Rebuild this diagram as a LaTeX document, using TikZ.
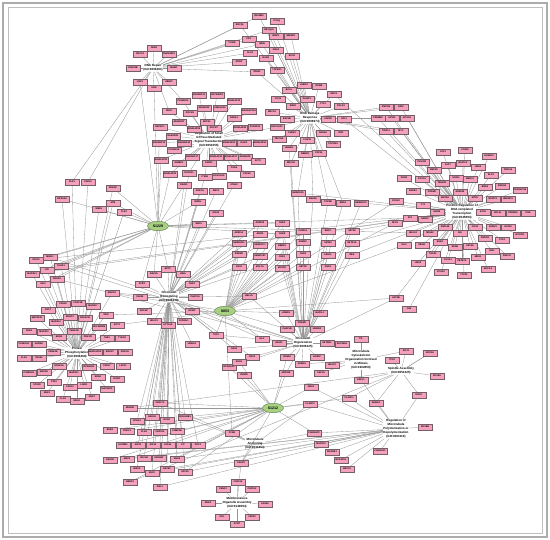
\documentclass[tikz,border=0pt]{standalone}
\usepackage{fontspec}
\setmainfont{Liberation Sans}
\usetikzlibrary{shapes.geometric}
\pgfdeclarelayer{bg}
\pgfsetlayers{bg,main}
\definecolor{genefill}{RGB}{244,160,190}
\definecolor{geneline}{RGB}{115,95,100}
\definecolor{sfill}{RGB}{168,208,130}
\definecolor{sline}{RGB}{95,125,75}
\definecolor{edgec}{RGB}{150,150,150}
\tikzset{
 gene/.style={draw=geneline, line width=0.28pt, fill=genefill, rectangle, minimum width=13.5pt, minimum height=5.4pt, inner sep=0.5pt, font=\fontsize{2.3}{2.5}\selectfont\bfseries},
 hub/.style={align=center, inner sep=0.3pt, font=\fontsize{3}{3.9}\selectfont\bfseries},
 snode/.style={ellipse, draw=sline, fill=sfill, line width=0.45pt, minimum width=21pt, minimum height=9.5pt, inner sep=0pt, font=\fontsize{3.6}{4}\selectfont\bfseries},
 edge/.style={draw=edgec, line width=0.32pt},
 framea/.style={draw=gray!65, line width=1.1pt},
 frameb/.style={draw=gray!50, line width=0.8pt},
}
\def\genes{
a1/259/16/ZRANB3/G1, a2/240/25/RECQL/G1, a3/269/30/RECQL5/G3, a4/291/36/WRNIP1/G3,
a5/276/36/BRIP1/G3, a6/249/39/PIF1/G1, a7/232/43/TICRR/G1, a8/262/44/WRN/G3,
a9/277/21/POLQ/G3, a10/276/50/DNA2/G3, a11/292/56/EXO1/G3, a12/250/53/SLX4/G1,
a13/266/58/RADX/G3, a14/239/62/ATRIP/G1, a15/257/72/TREX1/G3, a16/277/70/TOPBP1/G3,
a17/154/48/GEN1/G1, a18/169/54/TNKS1BP1/G1, a19/140/54/XRCC4/G1, a20/174/68/MGMT/G1,
a21/133/68/RAD23B/G1, a22/140/82/USP1/G1, a23/169/82/UBE2T/G1, a24/154/88/UNG/G1,
b1/199/95/ARHGEF11/G2, b2/217/95/CDC42EP4/G2, b3/234/101/ARHGAP12/G2, b4/183/101/PLEKHG3/G2,
b5/169/111/DEF6/G2, b6/190/113/DOCK9/G2, b7/204/108/ARHGEF2/G2, b8/220/108/ARHGAP5/G2,
b9/249/111/ARHGAP11A/G2, b10/234/118/RASA1/G2, b11/179/122/ARHGEF7/G2, b12/207/122/MCF2L/G2,
b13/160/127/DEPDC1/G2, b14/194/129/ARHGAP29/G2, b15/214/128/DOCK7/G2, b16/240/128/ARHGAP35/G2,
b17/255/127/STARD13/G2, b18/277/127/RACGAP1/G2, b19/173/136/RASGRF1/G2, b20/159/143/ARHGEF12/G2,
b21/184/143/ARHGEF40/G2, b22/229/143/ARHGAP21/G2, b23/244/143/DGKZ/G2, b24/260/143/ARHGAP31/G2,
b25/279/139/TBC1D4/G2, b26/174/150/PLEKHG5/G2, b27/161/160/ARHGAP32/G2, b28/179/163/SH3BP1/G2,
b29/192/157/ARHGEF17/G2, b30/209/163/FARP1/G2, b31/216/157/ARHGAP10/G2, b32/231/157/ARHGAP17/G2,
b33/245/157/ARHGEF5/G2, b34/258/161/ECT2/G2, b35/234/168/FGD6/G2, b36/189/173/DOCK11/G2,
b37/170/174/ARHGAP30/G2, b38/219/176/RAP1GAP/G2, b39/247/174/CDC42/G2, b40/205/177/ITSN1/G2,
c1/304/85/UHRF2/G3, c2/319/86/MCM8/G3, c3/289/90/BCL6/G3, c4/278/99/CUX1/G3,
c5/307/99/PAXIP1/G3, c6/334/94/MDC1/G3, c7/293/106/RNF8/G3, c8/323/104/CTC1/G3,
c9/341/106/POLD3/G3, c10/272/112/BRCA1/G3, c11/287/119/BAZ1B/G3, c12/328/119/USP28/G3,
c13/344/119/UFL1/G3, c15/292/133/CHEK2/G3, c16/323/133/RAD9A/G3, c17/341/133/RIF1/G3,
c19/307/140/CLSPN/G3, c20/333/144/TOPORS/G3, c21/289/148/HMGB1/G3, c22/305/154/RBBP8/G3,
c23/319/153/CDC5L/G3, c24/291/163/BRCA2/G3,
d1/386/107/ZNF384/G3, d2/401/107/E2F2/G3, d3/378/118/CREBBP/G3, d4/392/118/EP300/G3,
d5/407/118/NCOA3/G3, d6/386/131/TRIP11/G3, d7/401/131/MYC/G3, d8/404/178/PKN2/G4,
d9/443/152/ATF1/G4, d10/465/150/ZC3H8/G4, d11/489/156/HOXB13/G4, d12/422/162/POU2F1/G4,
d13/448/165/KLF7/G4, d14/463/163/NFATC2/G4, d15/478/167/LMO4/G4, d16/434/170/MEF2D/G4,
d17/491/175/ELF3/G4, d18/508/170/ZNF516/G4, d19/456/178/SOX11/G4, d20/470/179/MED13/G4,
d21/422/179/FOXO1/G4, d23/442/183/TRERF1/G4, d25/413/191/NFKB1/G4, d26/432/192/PRDM2/G4,
d27/460/192/ARID5B/G4, d28/485/187/BRD4/G4, d29/502/186/ZNF592/G4, d30/520/190/PPARGC1B/G4,
d31/445/198/KMT2A/G4, d32/475/198/MTF2/G4, d33/493/199/NFATC1/G4, d34/508/199/HNRNPU/G4,
d35/423/205/YY1/G4, d36/437/212/MAFB/G4, d37/483/212/ETV6/G4, d38/498/213/BCL9L/G4,
d39/513/213/PRDM16/G4, d40/528/213/PGR/G4, d41/410/218/SP1/G4, d42/425/219/NR2F2/G4,
d43/445/227/ZNF148/G4, d44/475/227/CDX2/G4, d45/493/227/RUNX1/G4, d46/508/227/GATA3/G4,
d47/413/233/HDAC4/G4, d48/430/233/NPAS2/G4, d49/460/233/SKI/G4, d50/485/238/ZNF281/G4,
d51/502/240/TCF4/G4, d52/520/235/MYOCD/G4, d53/422/245/MEIS1/G4, d54/440/242/EGR1/G4,
d55/455/247/RERE/G4, d56/470/246/KAT6A/G4, d57/492/251/RAI1/G4, d58/507/256/ZNF217/G4,
d59/433/254/TEAD1/G4, d60/418/263/LMO2/G4, d61/448/260/FOXK1/G4, d62/462/261/ZBTB7A/G4,
d63/478/257/MED1/G4, d64/488/269/NKX2-5/G4, d65/441/272/PCGF2/G4, d66/464/275/TCF20/G4,
d67/396/201/FOXK2/G4, d69/395/223/RFX3/G4, d71/404/245/GLI3/G4, d73/396/298/KAT2B/G7,
d74/409/309/JUN/G4, d76/430/353/KIF20A/G9,
e1/298/193/SMARCA5/G7, e2/313/199/BAZ2A/G7, e3/328/202/TOP2B/G7, e4/343/203/BRD1/G7,
e5/361/203/SMARCC2/G7, e6/282/223/CHD3/G7, e7/303/231/PHF21A/G7, e8/328/231/BRD7/G7,
e9/352/231/SETD5/G7, e10/282/234/CHD8/G7, e11/303/242/KDM5C/G7, e12/328/243/SATB2/G7,
e13/352/243/SETD1A/G7, e14/282/246/RBBP5/G7, e15/303/254/CHD4/G7, e16/328/255/ASH1L/G7,
e17/352/255/DEK/G7, e18/282/257/CHD1/G7, e19/303/267/SETD2/G7, e20/328/267/NSD1/G7,
e21/282/268/KMT2D/G7,
f1/184/185/RAD21/G5, f2/200/191/SMC1A/G5, f3/216/191/SMC3/G5, f4/234/185/STAG2/G5,
f5/198/202/NIPBL/G5, f6/216/213/MAU2/G5, f7/199/224/WAPL/G5, f8/239/233/ARID1A/G5,
f9/260/223/ARID1B/G5, f10/260/234/ARID2/G5, f12/239/243/SMARCD1/G5, f13/260/245/SMARCC1/G5,
f14/239/254/PBRM1/G5, f15/260/256/SMARCE1/G5, f16/239/267/SS18/G5, f17/260/267/BCL7A/G5,
f18/154/274/BAZ1A/G5, f19/168/269/BPTF/G5, f20/183/274/HIRA/G5, f21/142/284/ATRX/G5,
f22/192/284/CHD7/G5, f23/140/297/INO80/G5, f24/195/297/CHAF1A/G5, f25/249/296/HELLS/G5,
f26/144/311/SRCAP/G5, f27/192/311/EP400/G5, f28/154/321/HDAC1/G5, f29/168/325/ACTL6A/G5,
f30/184/321/RUVBL1/G5, f31/216/335/TOP1/G5, f32/192/344/HMGA1/G5, f33/234/349/CBX5/G7,
f34/252/357/CBX3/G7, f35/262/339/H1-2/G7,
g1/286/313/LRWD1/G7, g2/320/313/NAP1L1/G7, g3/302/323/PRDM9/G7, g4/287/329/CHAF1B/G7,
g5/317/329/HMGN2/G7, g6/279/343/H2AZ1/G7, g7/327/343/SETDB1/G7, g8/342/344/SUV39H1/G7,
g9/361/339/TTL/G8, g10/287/357/CENPA/G7, g11/317/357/HJURP/G7, g12/406/351/KIF11/G9,
h1/302/364/KDM1A/G7, h2/321/373/ASF1A/G8, h3/332/365/HDAC2/G8, h4/286/373/ANP32E/G7,
h5/361/380/ESPL1/G8, h6/392/360/TPX2/G9, h7/311/387/NDE1/G10, h8/349/398/CLASP1/G10,
h9/310/404/CLASP2/G10, h10/376/403/NUMA1/G9, h11/419/395/KIF2C/G9, h12/314/433/CAMSAP2/G10,
h13/321/444/MAP7D3/G10, h14/332/452/MAPRE1/G10, h15/341/460/NCKAP5L/G10, h16/347/469/MAP1S/G10,
h17/380/451/CAMSAP1/G10, h18/437/376/KIF18A/G9, h19/425/427/KIF18B/G10,
h20/229/367/RPS6KA1/S3, h21/239/362/SGO1/S3, h22/244/375/CENPE/S3,
i1/160/403/CEP170/G5, i2/152/417/HAUS6/G5, i3/167/420/NUDC/G5, i4/185/417/PAFAH1B1/G5,
i5/137/421/SPAG5/G5, i6/144/432/PLK4/G5, i7/160/432/CEP192/G5, i8/177/431/CHMP1B/G5,
i9/138/445/KIF23/G5, i10/153/445/KIF14/G5, i11/168/445/KIF4A/G5, i12/183/445/CIT/G5,
i13/198/445/PRC1/G5, i14/144/458/CDCA8/G5, i15/159/458/INCENP/G5, i16/177/459/ANLN/G5,
i17/137/469/BIRC5/G5, i18/152/473/NUF2/G5, i19/167/469/NDC80/G5, i20/185/472/SPC25/G5,
i21/160/487/KNL1/G5, i22/232/433/PCM1/G11, i23/241/463/CKAP5/G11, i24/238/482/CEP135/G12,
i25/223/489/CENPJ/G12, i26/252/489/CEP152/G12, i27/208/503/NEK2/G12, i28/265/504/SASS6/G12,
i29/222/517/STIL/G12, i30/252/517/CEP63/G12, i31/237/524/PCNT/G12,
j1/29/373/CSNK2A1/G6, j2/44/372/MAPK6/G6, j3/59/366/DYRK1A/G6, j4/74/373/MAP3K1/G6,
j5/89/367/RPS6KB1/G6, j6/107/366/CDK17/G6, j7/123/366/LATS1/G6, j8/37/385/STK38/G6,
j9/54/382/PTK2/G6, j10/70/387/CDK13/G6, j11/84/385/LIMK1/G6, j12/98/377/ERN1/G6,
j13/117/379/RIOK1/G6, j14/47/393/NEK1/G6, j15/63/399/CLK3/G6, j16/77/401/MELK/G6,
j17/92/397/NEK7/G6, j18/107/389/MAP3K20/G6,
j19/130/408/BUB1B/S3, j20/110/430/BUB1/S3, j21/127/431/PSRC1/S3, j22/123/445/KATNB1/S3,
j23/110/460/HAUS8/S3, j24/127/459/MAP9/S3, j25/130/482/NEDD1/S3,
k1/72/182/PLK1/G6, k2/88/182/CDK12/G6, k3/62/199/EIF2AK4/G6, k4/113/188/PRKDC/G6,
k5/113/203/ATM/G6, k6/99/209/WEE1/G6, k7/124/212/TLK2/G6, k8/36/260/STK10/G6,
k9/50/257/MINK1/G6, k10/47/270/LTK/G6, k11/61/266/TAOK1/G6, k12/32/274/MAP4K4/G6,
k13/57/279/PRKD2/G6, k14/43/284/SIK3/G6, k15/112/293/MAPK1/G6, k16/63/304/CDK18/G6,
k17/78/303/CDK11B/G6, k18/93/306/MAP2K7/G6, k19/48/310/CDC7/G6, k20/70/317/MAST2/G6,
k21/85/318/PRKACB/G6, k22/37/318/MAP3K11/G6, k23/56/322/MAP3K4/G6, k24/106/315/TNIK/G6,
k25/74/331/CSNK1D/G6, k26/99/327/CDC42BPB/G6, k27/117/325/AKT3/G6, k28/29/331/PAK4/G6,
k29/44/332/MAP4K5/G6, k30/59/337/ERN2/G6, k31/88/337/PRKCD/G6, k32/107/338/TAB1/G6,
k33/122/338/TYRO3/G6, k34/24/344/CSNK1G1/G6, k35/39/344/AURKA/G6, k36/53/352/CSNK1E/G6,
k37/95/352/MAPKAPK2/G6, k38/110/352/MAPK7/G6, k39/125/352/PRKCA/G6, k40/24/358/CLK1/G6,
k41/39/358/TESK1/G6}
\def\extras{
S1/k3, S1/k4, S1/k5, S1/k6, S1/k7, S1/k8, S1/k9, S1/k10, S1/k11, S1/k12, S1/k13, S1/k14,
S1/b27, S1/b37, S1/b20, S1/f1, S1/f5, S1/f7, S1/f18, S1/f19, S1/f21, S1/d41, S1/d47,
S1/e6, S1/e10, S1/a22, S1/a24,
S2/e6, S2/e10, S2/e14, S2/e18, S2/e21, S2/e7, S2/e11, S2/e15, S2/e19, S2/f8, S2/f12,
S2/f14, S2/f16, S2/f9, S2/f13, S2/f17, S2/f31, S2/f35, S2/d67, S2/d69, S2/d71, S2/d73,
S2/g1, S2/g4, S2/k15, S2/k24, S2/k27, S2/i22,
S3/i1, S3/i4, S3/i8, S3/i13, S3/i16, S3/i20, S3/h7, S3/h9, S3/h12, S3/h4, S3/g10,
S3/i23, S3/h8,
G1/k1, G1/k2, G1/a3, G1/a8, G1/a15, G1/b4, G1/b5,
G3/a1, G3/a2, G3/e1, G3/e2, G3/e3, G3/e4, G3/b18, G3/b25,
G4/d1, G4/d2, G4/d3, G4/d4, G4/d5, G4/d6, G4/d7, G4/e1, G4/e5, G4/e9, G4/e13, G4/e17,
G4/k8, G4/k10, G4/k12, G4/c6, G4/c13, G4/d73,
G5/i1, G5/k15, G5/b36, G5/b40, G5/f33, G5/f34, G5/f35,
G7/f25, G7/f31, G7/k9, G7/k11, G7/k13, G7/c24, G7/c21, G7/h20,
G8/h1, G8/g12,
G9/h5, G9/h8, G9/d76, G9/j19, G9/j25,
G10/i18, G10/i19, G10/i20, G10/i21, G10/i16, G10/h10, G10/h11, G10/h5, G10/j23, G10/j24,
G11/h9, G11/i1, G11/i4, G11/h12,
G12/i23}
\begin{document}
\begin{tikzpicture}[x=1pt,y=-1pt]
\useasboundingbox (0,0) rectangle (550,540);
\draw[framea] (3,3) rectangle (547,537);
\draw[frameb] (8,7.5) rectangle (542,533);
% GO term hubs
\node[hub] (G1) at (153,68) {DNA Repair\\(GO:0006281)};
\node[hub] (G2) at (209,140) {Regulation of Small\\GTPase Mediated\\Signal Transduction\\(GO:0051056)};
\node[hub] (G3) at (310,118) {DNA Damage\\Response\\(GO:0006974)};
\node[hub] (G4) at (462,212) {Positive Regulation of\\DNA-templated\\Transcription\\(GO:0045893)};
\node[hub] (G5) at (169,297) {Chromatin\\Remodeling\\(GO:0006338)};
\node[hub] (G6) at (77,353) {Protein\\Phosphorylation\\(GO:0006468)};
\node[hub] (G7) at (303,343) {Chromatin\\Organization\\(GO:0006325)};
\node[hub] (G8) at (361,360) {Microtubule\\Cytoskeleton\\Organization Involved\\in Mitosis\\(GO:1902850)};
\node[hub] (G9) at (401,371) {Spindle Assembly\\(GO:0051225)};
\node[hub] (G10) at (396,429) {Regulation of\\Microtubule\\Polymerization or\\Depolymerization\\(GO:0031110)};
\node[hub] (G11) at (255,444) {Microtubule\\Anchoring\\(GO:0034453)};
\node[hub] (G12) at (237,503) {Membraneless\\Organelle Assembly\\(GO:0140694)};
% signature nodes
\node[snode] (S1) at (158,226) {S1229};
\node[snode] (S2) at (225,311) {S853};
\node[snode] (S3) at (273,408) {S1212};
% genes
\foreach \n/\x/\y/\t/\h in \genes {\node[gene] (\n) at (\x,\y) {\t};}
% connectors
\begin{pgfonlayer}{bg}
\foreach \n/\x/\y/\t/\h in \genes {\draw[edge] (\n) -- (\h);}
\foreach \a/\b in \extras {\draw[edge] (\a) -- (\b);}
\end{pgfonlayer}
\end{tikzpicture}
\end{document}
